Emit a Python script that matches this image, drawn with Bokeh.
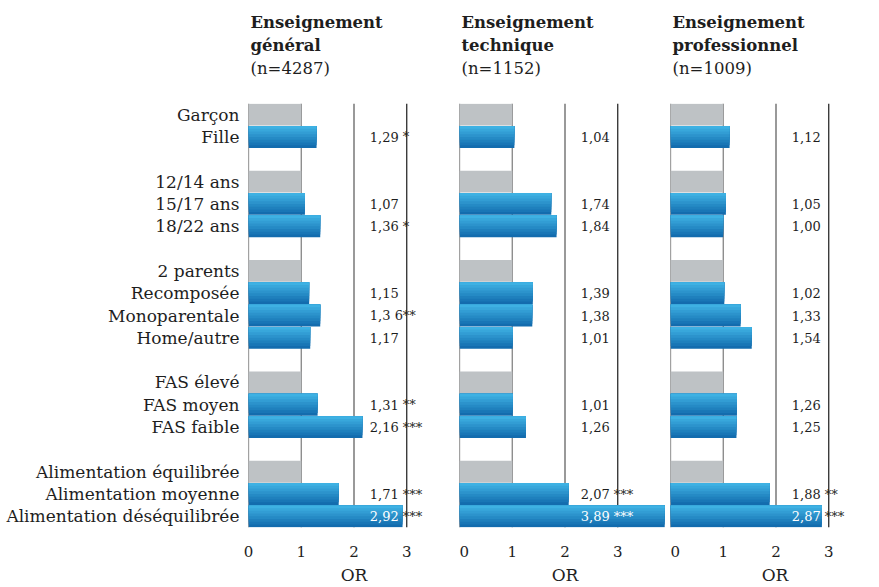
from bokeh.plotting import figure
from bokeh.layouts import row
from bokeh.models import ColumnDataSource, FixedTicker, Span, Title, Range1d
from bokeh.core.properties import value
from bokeh.embed import file_html
from bokeh.resources import INLINE

# ---------------- data ----------------
groups = [
    ["Garçon", "Fille"],
    ["12/14 ans", "15/17 ans", "18/22 ans"],
    ["2 parents", "Recomposée", "Monoparentale", "Home/autre"],
    ["FAS élevé", "FAS moyen", "FAS faible"],
    ["Alimentation équilibrée", "Alimentation moyenne", "Alimentation déséquilibrée"],
]
reference_cats = ["Garçon", "12/14 ans", "2 parents", "FAS élevé", "Alimentation équilibrée"]
compared_cats = ["Fille", "15/17 ans", "18/22 ans", "Recomposée", "Monoparentale",
                 "Home/autre", "FAS moyen", "FAS faible", "Alimentation moyenne",
                 "Alimentation déséquilibrée"]

titles_general = ["Enseignement", "général", "(n=4287)"]
titles_technique = ["Enseignement", "technique", "(n=1152)"]
titles_pro = ["Enseignement", "professionnel", "(n=1009)"]

or_general = [1.29, 1.07, 1.36, 1.15, 1.36, 1.17, 1.31, 2.16, 1.71, 2.92]
txt_general = ["1,29", "1,07", "1,36", "1,15", "1,3 6", "1,17", "1,31", "2,16", "1,71", "2,92"]
sig_general = ["*", "", "*", "", "**", "", "**", "***", "***", "***"]

or_technique = [1.04, 1.74, 1.84, 1.39, 1.38, 1.01, 1.01, 1.26, 2.07, 3.89]
txt_technique = ["1,04", "1,74", "1,84", "1,39", "1,38", "1,01", "1,01", "1,26", "2,07", "3,89"]
sig_technique = ["", "", "", "", "", "", "", "", "***", "***"]

or_pro = [1.12, 1.05, 1.00, 1.02, 1.33, 1.54, 1.26, 1.25, 1.88, 2.87]
txt_pro = ["1,12", "1,05", "1,00", "1,02", "1,33", "1,54", "1,26", "1,25", "1,88", "2,87"]
sig_pro = ["", "", "", "", "", "", "", "", "**", "***"]

reference_or = 1.0
x_ticks = [0, 1, 2, 3]
ref_lines = [0, 1, 2, 3]

# ---------------- layout helpers ----------------
FONT = "DejaVu Serif"
TXT = "#1e1e1e"
pos = {}
k = 0
for g in groups:
    for c in g:
        pos[c] = k
        k += 1
    k += 1
last_pos = max(pos.values())
line_colors = {0: "#444444", 1: "#7a7a7a", 2: "#555555", 3: "#1a1a1a"}

SCALE = 211 / 4.0  # px per OR unit
LABEL_X = 2.3
BAR_H = 0.98
N_BANDS = 8
TOP_C = (0x3e, 0xb1, 0xe3)
BOT_C = (0x13, 0x6c, 0xae)


def band_color(i):
    t = i / (N_BANDS - 1)
    r, g, b = (round(a + (bb - a) * t) for a, bb in zip(TOP_C, BOT_C))
    return "#%02x%02x%02x" % (r, g, b)


def make_panel(titles, vals, txts, sigs, width, xmax, first=False):
    p = figure(width=width, height=587, x_range=Range1d(0, xmax),
               y_range=Range1d(last_pos + 0.5, -0.5), title=None,
               output_backend="svg", toolbar_location=None,
               min_border_left=248 if first else 0, min_border_right=0,
               min_border_top=103, min_border_bottom=60)
    p.outline_line_color = None
    p.grid.visible = False

    for xl in ref_lines:
        p.add_layout(Span(location=xl, dimension="height", line_color=line_colors[xl],
                          line_width=1.2, level="underlay"))

    # reference category bars (grey)
    ref_src = ColumnDataSource(dict(y=[pos[c] for c in reference_cats],
                                    right=[reference_or] * len(reference_cats)))
    p.hbar(y="y", left=0, right="right", height=BAR_H, source=ref_src,
           fill_color="#bec2c5", line_color=None)

    # compared categories: vertical gradient made of nested bars (dark bottom -> light top)
    ys = [pos[c] for c in compared_cats]
    top_edge = [y - BAR_H / 2 for y in ys]
    for i in range(N_BANDS):
        frac = (N_BANDS - i) / N_BANDS          # part of the bar covered from the top
        h = BAR_H * frac
        src = ColumnDataSource(dict(y=[t + h / 2 for t in top_edge], right=vals))
        p.hbar(y="y", left=0, right="right", height=h, source=src,
               fill_color=band_color(N_BANDS - 1 - i), line_color=None)

    num_end = LABEL_X + 29 / SCALE
    sig_end = LABEL_X + 48 / SCALE
    lab = ColumnDataSource(dict(
        x=[LABEL_X] * len(vals), y=ys, num=txts, sig=sigs,
        ncol=["white" if v > num_end else TXT for v in vals],
        scol=["white" if v > sig_end else TXT for v in vals]))
    p.text(x="x", y="y", text="num", source=lab, text_align="left",
           text_baseline="middle", text_font=value(FONT), text_font_size="13px",
           text_color="ncol")
    p.text(x="x", y="y", text="sig", source=lab, text_align="left", x_offset=33,
           text_baseline="middle", text_font=value(FONT), text_font_size="13px",
           text_color="scol")

    # axes
    p.xaxis.ticker = FixedTicker(ticks=x_ticks)
    p.xaxis.axis_line_color = None
    p.xaxis.major_tick_line_color = None
    p.xaxis.minor_tick_line_color = None
    p.xaxis.major_label_standoff = 12
    p.xaxis.major_label_text_font = FONT
    p.xaxis.major_label_text_font_size = "15px"
    p.xaxis.major_label_text_color = TXT
    p.xaxis.axis_label = "OR"
    p.xaxis.axis_label_standoff = 5
    p.xaxis.axis_label_text_font = FONT
    p.xaxis.axis_label_text_font_size = "17px"
    p.xaxis.axis_label_text_font_style = "normal"
    p.xaxis.axis_label_text_color = TXT

    if first:
        p.yaxis.ticker = FixedTicker(ticks=[pos[c] for g in groups for c in g])
        p.yaxis.major_label_overrides = {pos[c]: c for g in groups for c in g}
        p.yaxis.axis_line_color = None
        p.yaxis.major_tick_line_color = None
        p.yaxis.minor_tick_line_color = None
        p.yaxis.major_label_standoff = 3
        p.yaxis.major_label_text_font = FONT
        p.yaxis.major_label_text_font_size = "17px"
        p.yaxis.major_label_text_color = TXT
    else:
        p.yaxis.visible = False

    # stacked header (first added = closest to the plot)
    p.add_layout(Title(text=" ", align="left", standoff=2, text_font=FONT,
                       text_font_size="18px"), "above")
    p.add_layout(Title(text=titles[2], align="left", offset=2, standoff=2,
                       text_font=FONT, text_font_size="16.5px",
                       text_font_style="normal", text_color=TXT), "above")
    p.add_layout(Title(text=titles[1], align="left", offset=2, standoff=2,
                       text_font=FONT, text_font_size="16.5px",
                       text_font_style="bold", text_color=TXT), "above")
    p.add_layout(Title(text=titles[0], align="left", offset=2, standoff=2,
                       text_font=FONT, text_font_size="16.5px",
                       text_font_style="bold", text_color=TXT), "above")
    return p


p1 = make_panel(titles_general, or_general, txt_general, sig_general, 459, 4.0, first=True)
p2 = make_panel(titles_technique, or_technique, txt_technique, sig_technique, 211, 4.0)
p3 = make_panel(titles_pro, or_pro, txt_pro, sig_pro, 209, 209 / SCALE)

layout = row(p1, p2, p3)
open("out.html", "w").write(file_html(layout, INLINE))
